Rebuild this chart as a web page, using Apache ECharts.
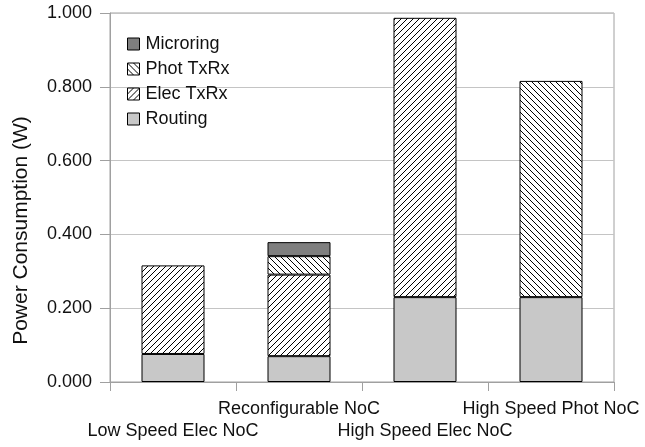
<!DOCTYPE html>
<html>
<head>
<meta charset="utf-8">
<script src="https://cdn.jsdelivr.net/npm/echarts@6/dist/echarts.min.js"></script>
<style>
  html, body { margin: 0; padding: 0; background: #fff; }
  #chart { width: 645px; height: 447px; }
</style>
</head>
<body>
<div id="chart"></div>
<script>
  // categories and stacked values (W)
  var categories = ['Low Speed Elec NoC', 'Reconfigurable NoC', 'High Speed Elec NoC', 'High Speed Phot NoC'];
  var routing = [0.076, 0.070, 0.230, 0.230];
  var elecTxRx = [0.240, 0.221, 0.757, null];
  var photTxRx = [null, 0.050, null, 0.586];
  var microring = [null, 0.038, null, null];
  var legendOrder = ['Microring', 'Phot TxRx', 'Elec TxRx', 'Routing'];

  // hatch tile: dir 1 = '/', dir -1 = '\'
  function hatch(dir) {
    var s = 6;
    var c = document.createElement('canvas');
    c.width = s; c.height = s;
    var g = c.getContext('2d');
    g.fillStyle = '#fff';
    g.fillRect(0, 0, s, s);
    g.strokeStyle = '#000';
    g.lineWidth = 1;
    g.beginPath();
    for (var k = -1; k <= 1; k++) {
      if (dir > 0) {
        g.moveTo(k * s, s); g.lineTo(k * s + s, 0);
      } else {
        g.moveTo(k * s, 0); g.lineTo(k * s + s, s);
      }
    }
    g.stroke();
    return { image: c, repeat: 'repeat' };
  }

  var border = { borderColor: '#000', borderWidth: 1 };
  function barSeries(name, data, color) {
    return {
      name: name,
      type: 'bar',
      stack: 'total',
      barWidth: '50%',
      data: data,
      itemStyle: Object.assign({ color: color }, border),
      emphasis: { disabled: true }
    };
  }

  var chart = echarts.init(document.getElementById('chart'));
  chart.setOption({
    animation: false,
    textStyle: { fontFamily: '"Liberation Sans", Arial, sans-serif' },
    grid: { left: 110, right: 31, top: 13, bottom: 65, show: true, borderColor: '#a0a0a0', borderWidth: 1 },
    legend: {
      orient: 'vertical',
      left: 122,
      top: 30,
      icon: 'rect',
      itemWidth: 12,
      itemHeight: 12,
      itemGap: 7,
      data: legendOrder,
      itemStyle: { borderColor: '#000', borderWidth: 1 },
      textStyle: { fontSize: 18, color: '#111', lineHeight: 18, padding: [0, 0, 0, 1] }
    },
    xAxis: {
      type: 'category',
      data: categories,
      axisLine: { lineStyle: { color: '#a0a0a0' } },
      axisTick: { show: true, length: 9, lineStyle: { color: '#a0a0a0' } },
      axisLabel: {
        interval: 0,
        hideOverlap: false,
        margin: 16,
        fontSize: 18,
        color: '#111',
        lineHeight: 22,
        verticalAlign: 'top',
        formatter: function (v, i) { return i % 2 === 0 ? '\n' + v : v; }
      }
    },
    yAxis: {
      type: 'value',
      min: 0,
      max: 1,
      interval: 0.2,
      name: 'Power Consumption (W)',
      nameLocation: 'middle',
      nameGap: 78,
      nameTextStyle: { fontSize: 21, color: '#111', padding: [0, 66, 0, 0] },
      axisLine: { show: true, lineStyle: { color: '#a0a0a0' } },
      axisTick: { show: true, length: 10, lineStyle: { color: '#a0a0a0' } },
      splitLine: { lineStyle: { color: '#c4c4c4' } },
      axisLabel: {
        margin: 18,
        fontSize: 18,
        color: '#111',
        formatter: function (v) { return v.toFixed(3); }
      }
    },
    series: [
      barSeries('Routing', routing, '#c8c8c8'),
      barSeries('Elec TxRx', elecTxRx, hatch(1)),
      barSeries('Phot TxRx', photTxRx, hatch(-1)),
      barSeries('Microring', microring, '#7f7f7f')
    ]
  });
</script>
</body>
</html>
